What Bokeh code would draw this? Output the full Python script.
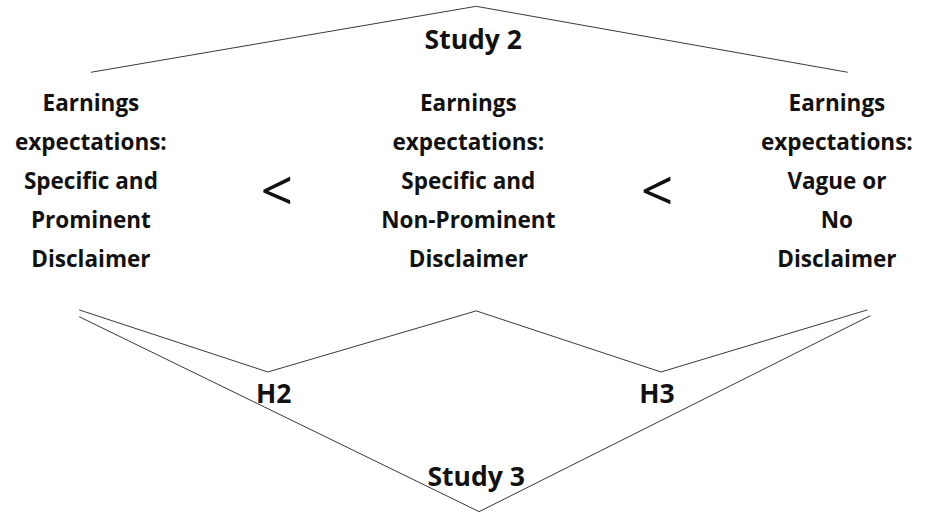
from bokeh.plotting import figure
from bokeh.models import Range1d, ColumnDataSource
from bokeh.core.properties import value
from bokeh.embed import file_html
from bokeh.resources import INLINE

# Node labels (boxes of the diagram)
box_left = ["Earnings", "expectations:", "Specific and", "Prominent", "Disclaimer"]
box_mid = ["Earnings", "expectations:", "Specific and", "Non-Prominent", "Disclaimer"]
box_right = ["Earnings", "expectations:", "Vague or", "No", "Disclaimer"]
box_x = [92, 476, 851]
line_y = [105, 145, 186, 226, 266]

relations = ["<", "<"]
relation_x = [281, 668]
relation_y = [194, 194]

labels = ["Study 2", "H2", "H3", "Study 3"]
label_x = [481, 278, 668, 484]
label_y = [40, 405, 405, 490]

# Connector paths (diagram coordinates, 933 x 532 canvas)
paths_x = [
    [92, 484, 862],
    [80, 272, 484, 672, 882],
    [80, 487, 885],
]
paths_y = [
    [74, 6, 74],
    [319, 383, 320, 383, 319],
    [326, 527, 325],
]

FONT = "Open Sans"

p = figure(width=917, height=516, output_backend="svg", toolbar_location=None,
           x_range=Range1d(0, 933), y_range=Range1d(532, 0),
           x_axis_location=None, y_axis_location=None, min_border=0)
p.xgrid.visible = False
p.ygrid.visible = False
p.outline_line_color = None

p.multi_line(xs=paths_x, ys=paths_y, line_color="#3a3a3a", line_width=1)

for texts, cx in zip([box_left, box_mid, box_right], box_x):
    src = ColumnDataSource(dict(x=[cx] * len(texts), y=line_y, t=texts))
    p.text(x="x", y="y", text="t", source=src, text_align="center",
           text_baseline="middle", text_font=value(FONT), text_font_size="22.5px",
           text_font_style="bold", text_color="#111111")

p.text(x=relation_x, y=relation_y, text=relations, text_align="center",
       text_baseline="middle", text_font=value(FONT), text_font_size="57px",
       text_color="#111111")

p.text(x=label_x, y=label_y, text=labels, text_align="center",
       text_baseline="middle", text_font=value(FONT), text_font_size="26.5px",
       text_font_style="bold", text_color="#111111")

open("out.html", "w").write(file_html(p, INLINE))
